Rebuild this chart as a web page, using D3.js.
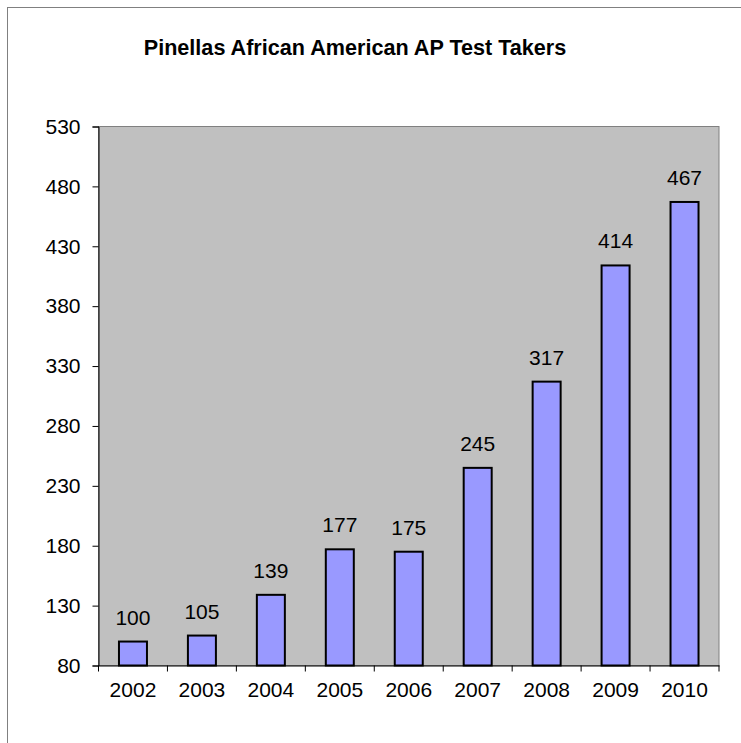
<!DOCTYPE html>
<html>
<head>
<meta charset="utf-8">
<script src="https://cdn.jsdelivr.net/npm/d3@7"></script>
<style>
  html, body { margin: 0; padding: 0; background: #fff; }
  svg { display: block; }
  text { font-family: "Liberation Sans", Arial, sans-serif; fill: #000; }
</style>
</head>
<body>
<svg id="chart" width="741" height="743"></svg>
<script>
const years = ["2002", "2003", "2004", "2005", "2006", "2007", "2008", "2009", "2010"];
const takers = [100, 105, 139, 177, 175, 245, 317, 414, 467];
const yTicks = [80, 130, 180, 230, 280, 330, 380, 430, 480, 530];
const title = "Pinellas African American AP Test Takers";

const svg = d3.select("#chart");
const W = 741, H = 743;
const plot = { left: 98.5, right: 719, top: 126.5, bottom: 665.5 };

// outer chart border (extends past the window on right/bottom)
svg.append("rect")
  .attr("x", 7.5).attr("y", 7.5)
  .attr("width", W + 20).attr("height", H + 20)
  .attr("fill", "#fff").attr("stroke", "#808080").attr("stroke-width", 1);

const xb = d3.scaleBand().domain(years).range([plot.left, plot.right]);
const y = d3.scaleLinear().domain([80, 530]).range([plot.bottom, plot.top]);

// plot area background
svg.append("rect")
  .attr("x", plot.left).attr("y", plot.top)
  .attr("width", plot.right - plot.left).attr("height", plot.bottom - plot.top)
  .attr("fill", "#C0C0C0").attr("stroke", "#808080").attr("stroke-width", 1);

const rows = years.map((d, i) => ({ year: d, v: takers[i] }));

// bars
svg.append("g").selectAll("rect")
  .data(rows)
  .join("rect")
  .attr("x", d => xb(d.year) + xb.bandwidth() / 2 - 14)
  .attr("width", 28)
  .attr("y", d => y(d.v))
  .attr("height", d => y(80) - y(d.v))
  .attr("fill", "#9999FF").attr("stroke", "#000").attr("stroke-width", 2);

// value labels
svg.append("g").selectAll("text")
  .data(rows)
  .join("text")
  .attr("x", d => xb(d.year) + xb.bandwidth() / 2)
  .attr("y", d => y(d.v) - 17)
  .attr("text-anchor", "middle")
  .attr("font-size", 21)
  .text(d => d.v);

// y axis
const yAxis = d3.axisLeft(y).tickValues(yTicks).tickSize(6).tickPadding(12);
const gy = svg.append("g").attr("transform", `translate(${plot.left},0)`).call(yAxis);
gy.select(".domain").attr("stroke", "#000").attr("stroke-width", 1);
gy.selectAll(".tick line").attr("stroke", "#000");
gy.selectAll(".tick text").attr("font-size", 21).attr("font-family", "Liberation Sans, Arial, sans-serif").attr("fill", "#000");

// x axis (ticks at category boundaries)
const gx = svg.append("g").attr("transform", `translate(0,${plot.bottom})`);
gx.call(d3.axisBottom(xb).tickSize(0).tickPadding(17));
gx.select(".domain").attr("stroke", "#000").attr("stroke-width", 1);
gx.selectAll(".tick text").attr("font-size", 21).attr("font-family", "Liberation Sans, Arial, sans-serif").attr("fill", "#000");
gx.selectAll("line.sep")
  .data(years.map(d => xb(d)).concat([plot.right]))
  .join("line").attr("class", "sep")
  .attr("x1", d => d).attr("x2", d => d)
  .attr("y1", 0).attr("y2", 6)
  .attr("stroke", "#000");

// title
svg.append("text")
  .attr("x", 355).attr("y", 55)
  .attr("text-anchor", "middle")
  .attr("font-size", 21.6).attr("font-weight", "bold")
  .text(title);
</script>
</body>
</html>
